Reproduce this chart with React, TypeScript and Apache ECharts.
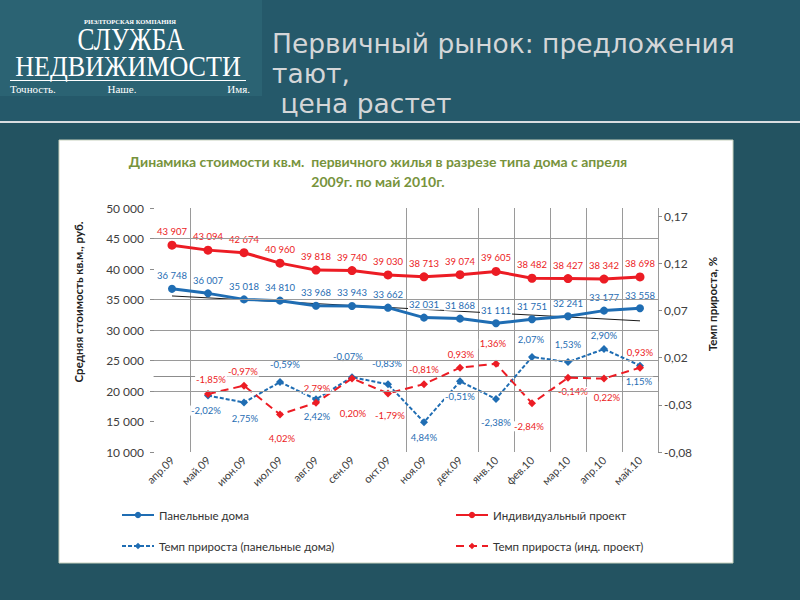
import React, { useEffect, useRef } from 'react';
import * as echarts from 'echarts';

const categories = ['апр.09', 'май.09', 'июн.09', 'июл.09', 'авг.09', 'сен.09', 'окт.09', 'ноя.09', 'дек.09', 'янв.10', 'фев.10', 'мар.10', 'апр.10', 'май.10'];
const panelPrice = [36748, 36007, 35018, 34810, 33968, 33943, 33662, 32031, 31868, 31111, 31751, 32241, 33177, 33558];
const individualPrice = [43907, 43094, 42674, 40960, 39818, 39740, 39030, 38713, 39074, 39605, 38482, 38427, 38342, 38698];
const panelGrowth = [null, -0.0202, -0.0275, -0.0059, -0.0242, -0.0007, -0.0083, -0.0484, -0.0051, -0.0238, 0.0207, 0.0153, 0.029, 0.0115];
const individualGrowth = [null, -0.0185, -0.0097, -0.0402, -0.0279, -0.002, -0.0179, -0.0081, 0.0093, 0.0136, -0.0284, -0.0014, -0.0022, 0.0093];
const panelGrowthLabels = ['', '-2,02%', '2,75%', '-0,59%', '2,42%', '-0,07%', '-0,83%', '4,84%', '-0,51%', '-2,38%', '2,07%', '1,53%', '2,90%', '1,15%'];
const individualGrowthLabels = ['', '-1,85%', '-0,97%', '4,02%', '2,79%', '0,20%', '-1,79%', '-0,81%', '0,93%', '1,36%', '-2,84%', '-0,14%', '0,22%', '0,93%'];
const panelTrend = [35580, null, null, null, null, null, null, null, null, null, null, null, null, 31500];
const leftMin = 10000;
const leftMax = 50000;
const leftStep = 5000;
const rightTicks = [-0.08, -0.03, 0.02, 0.07, 0.12, 0.17];
const gridValues = [45000, 35000, 30000, 25000, 20000];
const seriesNames = ['Панельные дома', 'Индивидуальный проект', 'Темп прироста (панельные дома)', 'Темп прироста (инд. проект)'];

// label offsets (styling, not data)
const panelGrowthOffsets = [[0, 0], [-2, 15], [1, 16], [5, -18], [1, 17], [-4, -21], [-1, -21], [0, 15], [0, 15], [0, 24], [-1, -17], [0, -18], [0, -14], [-1, 16]];
const indGrowthOffsets = [[0, 0], [3, -14], [-1, -14], [2, 24], [1, -14], [1, 35], [2, 22], [0, -15], [1, -13], [-3, -20], [-3, 23], [5, 14], [3, 19], [0, -15]];
const tickIdx = [1, 7, 9, 10, 11, 12, 13, 14];
const splitIdx = [1, 7, 9, 10, 11, 12, 13];

const BLUE = '#1f6db3';
const RED = '#ec1c24';
const FONT = 'Lato, "Noto Sans", sans-serif';

const fmtThousands = (v: number) => String(v).replace(/\B(?=(\d{3})+(?!\d))/g, ' ');

export default function App() {
  const ref = useRef<HTMLDivElement>(null);
  useEffect(() => {
    document.body.style.margin = '0';
    const chart = echarts.init(ref.current!, undefined, { renderer: 'svg' });
    const priceLabel = (color: string) => ({
      show: true,
      position: 'top',
      distance: 4,
      color,
      fontSize: 9.5,
      fontFamily: FONT,
      backgroundColor: '#fff',
      padding: [0, 1],
      formatter: (p: any) => fmtThousands(p.value),
    });
    const growthData = (vals: (number | null)[], labels: string[], offs: number[][], color: string) =>
      vals.map((v, i) => ({
        value: v,
        label: {
          show: v !== null,
          position: 'inside',
          offset: offs[i],
          formatter: labels[i],
          color,
          fontSize: 9.5,
          fontFamily: FONT,
          backgroundColor: '#fff',
          padding: [0, 1],
        },
      }));
    const legendBase = {
      padding: 0,
      itemWidth: 32,
      itemHeight: 8,
      itemGap: 4,
      textStyle: { fontSize: 11.5, color: '#333', fontFamily: FONT },
    };
    const titleFont = '26.5px "DejaVu Sans", sans-serif';
    chart.setOption({
      animation: false,
      backgroundColor: '#235361',
      textStyle: { fontFamily: FONT },
      graphic: [
        { type: 'rect', z: -100, shape: { x: 0, y: 0, width: 800, height: 121 }, style: { fill: '#25596a' } },
        { type: 'rect', z: -100, shape: { x: 0, y: 0, width: 262, height: 96 }, style: { fill: '#2b6373' } },
        { type: 'rect', z: -100, shape: { x: 0, y: 121, width: 800, height: 2 }, style: { fill: '#d9dde0' } },
        { type: 'rect', z: -100, shape: { x: 59, y: 140, width: 674, height: 423 }, style: { fill: '#ffffff', stroke: '#c7d1bd', lineWidth: 1 } },
        { type: 'text', z: -50, x: 130, y: 21, style: { text: 'РИЭЛТОРСКАЯ КОМПАНИЯ', fill: '#ffffff', font: 'bold 6.5px "Liberation Serif", serif', textAlign: 'center', textVerticalAlign: 'middle' } },
        { type: 'text', z: -50, x: 131, y: 40, scaleX: 0.82, style: { text: 'СЛУЖБА', fill: '#ffffff', font: '31px "Liberation Serif", serif', textAlign: 'center', textVerticalAlign: 'middle' } },
        { type: 'text', z: -50, x: 128, y: 66, scaleX: 0.9, style: { text: 'НЕДВИЖИМОСТИ', fill: '#ffffff', font: '29px "Liberation Serif", serif', textAlign: 'center', textVerticalAlign: 'middle' } },
        { type: 'rect', z: -50, shape: { x: 10, y: 80, width: 236, height: 1 }, style: { fill: '#ffffff' } },
        { type: 'text', z: -50, x: 10, y: 89, style: { text: 'Точность.', fill: '#ffffff', font: '11px "Liberation Serif", serif', textAlign: 'left', textVerticalAlign: 'middle' } },
        { type: 'text', z: -50, x: 122, y: 89, style: { text: 'Наше.', fill: '#ffffff', font: '11px "Liberation Serif", serif', textAlign: 'center', textVerticalAlign: 'middle' } },
        { type: 'text', z: -50, x: 250, y: 89, style: { text: 'Имя.', fill: '#ffffff', font: '11px "Liberation Serif", serif', textAlign: 'right', textVerticalAlign: 'middle' } },
        { type: 'text', z: -50, x: 272, y: 43, style: { text: 'Первичный рынок: предложения', fill: '#d4d6d8', font: titleFont, textAlign: 'left', textVerticalAlign: 'middle' } },
        { type: 'text', z: -50, x: 272, y: 73, style: { text: 'тают,', fill: '#d4d6d8', font: titleFont, textAlign: 'left', textVerticalAlign: 'middle' } },
        { type: 'text', z: -50, x: 272, y: 103, style: { text: ' цена растет', fill: '#d4d6d8', font: titleFont, textAlign: 'left', textVerticalAlign: 'middle' } },
        { type: 'text', z: -50, x: 378, y: 161, style: { text: 'Динамика стоимости кв.м.  первичного жилья в разрезе типа дома с апреля', fill: '#77933c', font: 'bold 14px Lato, sans-serif', textAlign: 'center', textVerticalAlign: 'middle' } },
        { type: 'text', z: -50, x: 378, y: 181, style: { text: '2009г. по май 2010г.', fill: '#77933c', font: 'bold 14px Lato, sans-serif', textAlign: 'center', textVerticalAlign: 'middle' } },
        { type: 'text', z: -50, x: 78, y: 302, rotation: Math.PI / 2, style: { text: 'Средняя стоимость кв.м., руб.', fill: '#222', font: 'bold 11.5px Lato, sans-serif', textAlign: 'center', textVerticalAlign: 'middle' } },
        { type: 'text', z: -50, x: 712, y: 304, rotation: Math.PI / 2, style: { text: 'Темп прироста, %', fill: '#222', font: 'bold 11.5px Lato, sans-serif', textAlign: 'center', textVerticalAlign: 'middle' } },
      ],
      grid: { left: 154, right: 142, top: 208, bottom: 148, containLabel: false },
      legend: [
        { ...legendBase, data: [seriesNames[0]], left: 121, top: 509 },
        { ...legendBase, data: [seriesNames[1]], left: 455, top: 509 },
        { ...legendBase, data: [seriesNames[2]], left: 121, top: 540 },
        { ...legendBase, data: [seriesNames[3]], left: 455, top: 540 },
      ],
      xAxis: {
        type: 'category',
        data: categories,
        boundaryGap: true,
        axisLine: { show: true, lineStyle: { color: '#8c8c8c', width: 1 } },
        axisTick: { show: true, length: 5, interval: (i: number) => tickIdx.includes(i), lineStyle: { color: '#8c8c8c' } },
        splitLine: { show: true, interval: (i: number) => splitIdx.includes(i), lineStyle: { color: '#9a9a9a', width: 1 } },
        axisLabel: { rotate: 45, interval: 0, fontSize: 11, color: '#404040', margin: 6, fontFamily: FONT },
      },
      yAxis: [
        {
          type: 'value',
          min: leftMin,
          max: leftMax,
          interval: leftStep,
          position: 'left',
          axisLine: { show: false },
          axisTick: { show: true, length: 4, lineStyle: { color: '#8c8c8c' } },
          splitLine: { show: false },
          axisLabel: { fontSize: 12, color: '#404040', margin: 10, fontFamily: FONT, formatter: (v: number) => fmtThousands(v) },
        },
        {
          type: 'value',
          min: -0.08,
          max: 0.1785,
          position: 'right',
          axisLine: { show: false },
          axisTick: { show: true, length: 4, customValues: rightTicks, lineStyle: { color: '#8c8c8c' } },
          splitLine: { show: false },
          axisLabel: { fontSize: 12, color: '#404040', margin: 6, fontFamily: FONT, customValues: rightTicks, formatter: (v: number) => v.toFixed(2).replace('.', ',') },
        },
      ],
      series: [
        {
          name: 'trend',
          type: 'line',
          data: panelTrend,
          connectNulls: true,
          showSymbol: false,
          symbol: 'none',
          silent: true,
          z: 1,
          lineStyle: { color: '#1a1a1a', width: 1 },
          markLine: {
            silent: true,
            symbol: 'none',
            label: { show: false },
            lineStyle: { color: '#9a9a9a', width: 1, type: 'solid' },
            data: gridValues.map((v) => ({ yAxis: v })),
          },
        },
        {
          name: seriesNames[0],
          type: 'line',
          data: panelPrice,
          symbol: 'circle',
          symbolSize: 8,
          z: 3,
          itemStyle: { color: BLUE },
          lineStyle: { color: BLUE, width: 3 },
          label: priceLabel(BLUE),
        },
        {
          name: seriesNames[1],
          type: 'line',
          data: individualPrice,
          symbol: 'circle',
          symbolSize: 9,
          z: 3,
          itemStyle: { color: RED },
          lineStyle: { color: RED, width: 3 },
          label: priceLabel(RED),
        },
        {
          name: seriesNames[2],
          type: 'line',
          yAxisIndex: 1,
          data: growthData(panelGrowth, panelGrowthLabels, panelGrowthOffsets, BLUE),
          symbol: 'diamond',
          symbolSize: 8,
          z: 4,
          itemStyle: { color: BLUE },
          lineStyle: { color: BLUE, width: 2, type: [4, 2] },
        },
        {
          name: seriesNames[3],
          type: 'line',
          yAxisIndex: 1,
          data: growthData(individualGrowth, individualGrowthLabels, indGrowthOffsets, RED),
          symbol: 'diamond',
          symbolSize: 8,
          z: 4,
          itemStyle: { color: RED },
          lineStyle: { color: RED, width: 2, type: [8, 5] },
        },
      ],
    });
    return () => chart.dispose();
  }, []);
  return <div ref={ref} style={{ position: 'absolute', left: 0, top: 0, width: 800, height: 600 }} />;
}
